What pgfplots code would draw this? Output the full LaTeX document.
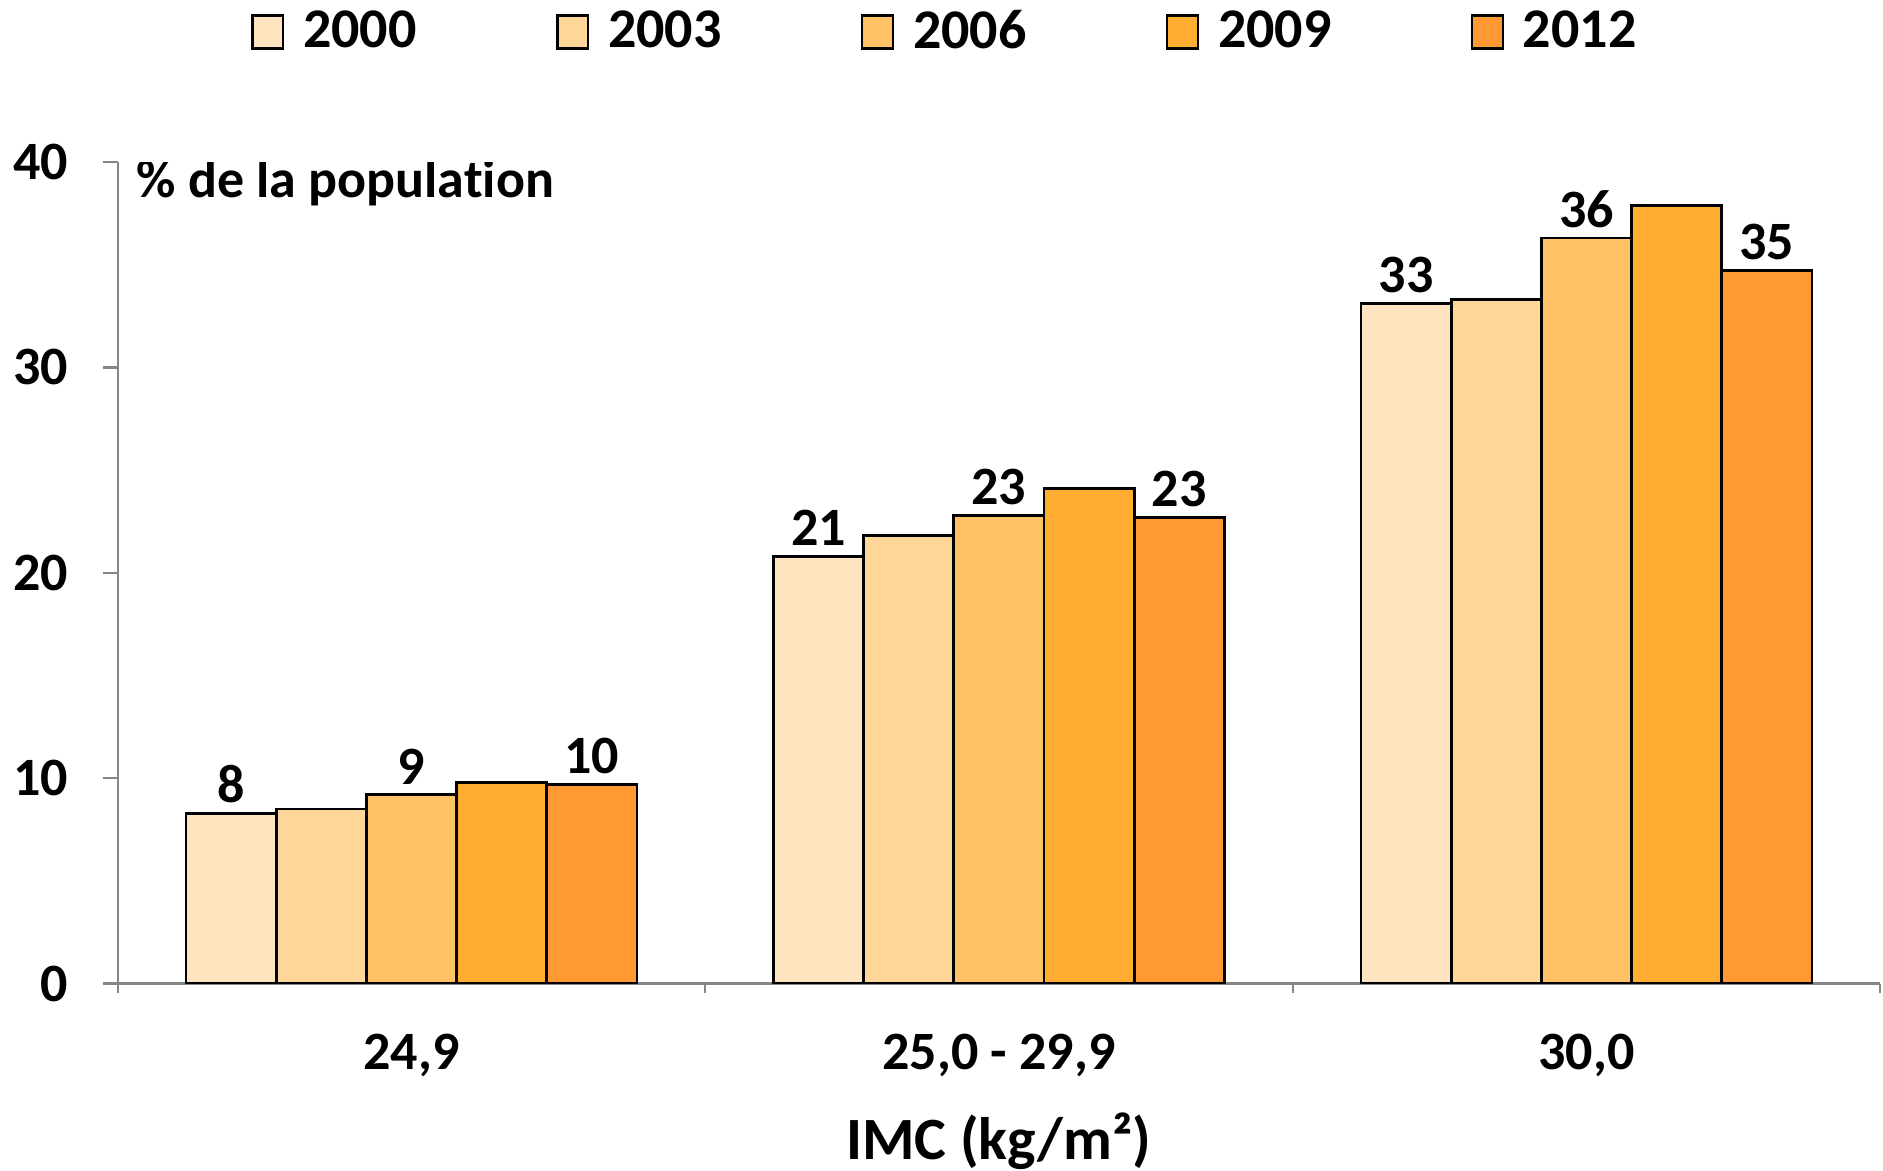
\documentclass[border=0pt]{standalone}
\usepackage{fontspec}
\setmainfont{Carlito}[Ligatures=NoCommon]
\usepackage{pgfplots}
\usepackage{pgfplotstable}
\pgfplotsset{compat=1.18}

\definecolor{c2000}{HTML}{FFE5BF}
\definecolor{c2003}{HTML}{FFD699}
\definecolor{c2006}{HTML}{FFC266}
\definecolor{c2009}{HTML}{FFAD33}
\definecolor{c2012}{HTML}{FF9933}
\definecolor{axisgray}{HTML}{868686}

% IMC groups: 0 = 24,9 ; 1 = 25,0 - 29,9 ; 2 = 30,0
\pgfplotstableread{
grp y2000 y2003 y2006 y2009 y2012
0   8.3   8.5   9.2   9.8   9.7
1   20.8  21.8  22.8  24.1  22.7
2   33.1  33.3  36.3  37.9  34.7
}\imc

\pgfplotsset{
  lbl/.style={
    point meta=y,
    nodes near coords={\pgfmathprintnumber[fixed,precision=0,assume math mode=true]{\pgfplotspointmeta}},
    every node near coord/.append style={anchor=south, inner sep=0pt, yshift=2.3pt,
      font=\fontsize{13.5}{16}\selectfont\bfseries, text=black},
  },
}

\begin{document}
\begin{tikzpicture}[font=\fontsize{13.5}{16}\selectfont\bfseries]
\useasboundingbox (-29.43pt,-46.6pt) rectangle (441.3pt,245.9pt);
\begin{axis}[
  at={(0,0)}, anchor=south west,
  scale only axis, width=440.6pt, height=205.4pt,
  ybar=0pt, bar width=0.1535,
  xmin=-0.5, xmax=2.5, ymin=0, ymax=40,
  axis x line*=bottom, axis y line*=left,
  axis line style={draw=axisgray, line width=0.6pt, -},
  xtick={0,1,2}, xticklabels={{24,9},{25,0 - 29,9},{30,0}},
  minor xtick={-0.5,0.5,1.5,2.5},
  ytick={0,10,20,30,40},
  tick align=outside,
  major tick length=3.75pt, minor tick length=2.4pt,
  major x tick style={draw=none},
  minor x tick style={draw=axisgray, line width=0.6pt},
  ytick style={draw=axisgray, line width=0.6pt},
  /pgf/number format/assume math mode=true,
  yticklabel style={anchor=east, inner sep=0pt, xshift=-8.5pt},
  xticklabel style={anchor=base, inner sep=0pt, yshift=-17.7pt},
  xlabel={IMC (kg/m²)},
  xlabel style={at={(rel axis cs:0.5,0)}, anchor=base, inner sep=0pt, yshift=-43.9pt,
    font=\fontsize{15}{18}\selectfont\bfseries},
  legend columns=5,
  legend style={draw=none, fill=none, at={(0.471,1)}, anchor=center, yshift=32.5pt,
    font=\fontsize{14}{16}\selectfont\bfseries,
    /tikz/every even column/.append style={column sep=32.85pt}},
  legend image code/.code={\draw[#1, line width=0.6pt] (0pt,-4.15pt) rectangle (7.7pt,4.15pt);
    \path (10.35pt,0pt);},
  every axis plot/.append style={draw=black, line width=0.7pt},
]
\addplot[fill=c2000, lbl] table[x=grp, y=y2000]{\imc};
\addplot[fill=c2003] table[x=grp, y=y2003]{\imc};
\addplot[fill=c2006, lbl] table[x=grp, y=y2006]{\imc};
\addplot[fill=c2009] table[x=grp, y=y2009]{\imc};
\addplot[fill=c2012, lbl] table[x=grp, y=y2012]{\imc};
\legend{2000,2003,2006,2009,2012}
\node[anchor=base west, inner sep=0pt, xshift=4.5pt, yshift=-8.75pt] at (rel axis cs:0,1) {\% de la population};
\end{axis}
\end{tikzpicture}
\end{document}
